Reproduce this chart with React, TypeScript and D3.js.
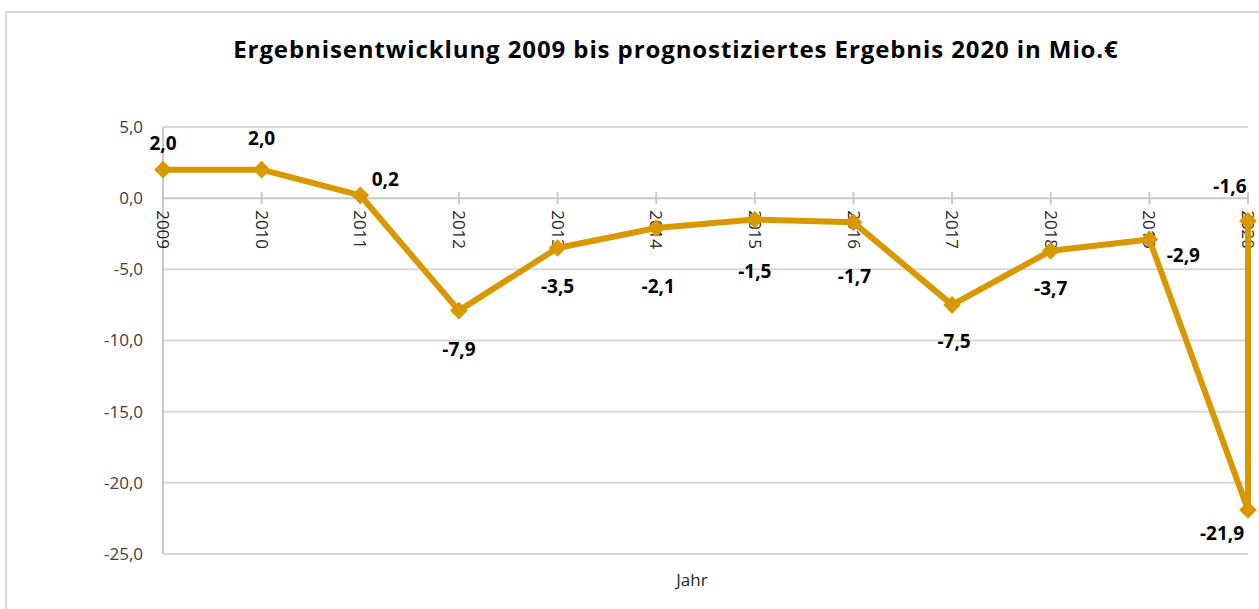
import React, { useEffect, useRef } from 'react';
import * as d3 from 'd3';

// chart data
const years = ['2009', '2010', '2011', '2012', '2013', '2014', '2015', '2016', '2017', '2018', '2019', '2020'];
const results = [2.0, 2.0, 0.2, -7.9, -3.5, -2.1, -1.5, -1.7, -7.5, -3.7, -2.9, -21.9];
const forecastYear = '2020';
const forecastValue = -1.6;
const yTicks = [5, 0, -5, -10, -15, -20, -25];

// label placement (pixel offsets from each point), same order as the points
const labelDx = [0, 0, 25, 0, 0, 2, 0, 1, 2, 0, 34, -26, -18];
const labelDy = [-26, -31, -16, 39, 38, 58, 52, 54, 36, 38, 16, 23, -35];

const LINE_COLOR = '#D99700';
const FONT = "'Open Sans', 'Noto Sans', sans-serif";

const App = ({ width = 1259, height = 609 }) => {
  const svgRef = useRef<SVGSVGElement | null>(null);

  useEffect(() => {
    if (!svgRef.current) return;
    const svg = d3.select(svgRef.current);
    svg.selectAll('*').remove();

    const margin = { top: 127, right: 11, bottom: 55, left: 163 };
    const plotRight = width - margin.right;
    const plotBottom = height - margin.bottom;

    const x = d3.scalePoint<string>().domain(years).range([margin.left, plotRight]);
    const y = d3.scaleLinear().domain([-25, 5]).range([plotBottom, margin.top]);

    const points = years.map((yr, i) => ({ year: yr, value: results[i] }));
    points.push({ year: forecastYear, value: forecastValue });

    const fmt = (v: number) => d3.format('.1f')(v).replace('.', ',').replace('−', '-');

    // chart frame
    svg.append('rect')
      .attr('x', 6)
      .attr('y', 12)
      .attr('width', width + 20)
      .attr('height', height + 20)
      .attr('fill', '#fff')
      .attr('stroke', '#d9d9d9')
      .attr('stroke-width', 2);

    // title
    svg.append('text')
      .attr('x', 676)
      .attr('y', 58)
      .attr('text-anchor', 'middle')
      .attr('font-family', FONT)
      .attr('font-size', '24px')
      .attr('font-weight', 'bold')
      .attr('letter-spacing', '0.9px')
      .attr('fill', '#000')
      .text('Ergebnisentwicklung 2009 bis prognostiziertes Ergebnis 2020 in Mio.€');

    // gridlines
    svg.append('g')
      .selectAll('line')
      .data(yTicks.filter(d => d !== 0))
      .enter()
      .append('line')
      .attr('x1', margin.left)
      .attr('x2', plotRight)
      .attr('y1', d => y(d))
      .attr('y2', d => y(d))
      .attr('stroke', '#d9d9d9')
      .attr('stroke-width', 2);

    // y axis line
    svg.append('line')
      .attr('x1', margin.left)
      .attr('x2', margin.left)
      .attr('y1', margin.top)
      .attr('y2', plotBottom)
      .attr('stroke', '#c8c8c8')
      .attr('stroke-width', 2);

    // y tick labels
    svg.append('g')
      .selectAll('text')
      .data(yTicks)
      .enter()
      .append('text')
      .attr('x', margin.left - 20)
      .attr('y', d => y(d))
      .attr('dy', '0.35em')
      .attr('text-anchor', 'end')
      .attr('font-family', FONT)
      .attr('font-size', '17px')
      .attr('fill', '#404040')
      .text(d => fmt(d));

    // zero axis with tick marks
    svg.append('line')
      .attr('x1', margin.left)
      .attr('x2', plotRight)
      .attr('y1', y(0))
      .attr('y2', y(0))
      .attr('stroke', '#c8c8c8')
      .attr('stroke-width', 2);

    svg.append('g')
      .selectAll('line')
      .data(years)
      .enter()
      .append('line')
      .attr('x1', d => x(d))
      .attr('x2', d => x(d))
      .attr('y1', y(0) - 6)
      .attr('y2', y(0) + 6)
      .attr('stroke', '#c8c8c8')
      .attr('stroke-width', 2);

    // x tick labels, rotated
    svg.append('g')
      .selectAll('text')
      .data(years)
      .enter()
      .append('text')
      .attr('transform', d => `translate(${x(d)},${y(0) + 12}) rotate(90)`)
      .attr('dy', '0.35em')
      .attr('text-anchor', 'start')
      .attr('font-family', FONT)
      .attr('font-size', '17px')
      .attr('fill', '#262626')
      .text(d => d);

    // axis title
    svg.append('text')
      .attr('x', 692)
      .attr('y', 580)
      .attr('dy', '0.35em')
      .attr('text-anchor', 'middle')
      .attr('font-family', FONT)
      .attr('font-size', '17px')
      .attr('fill', '#262626')
      .text('Jahr');

    // line
    const line = d3.line<{ year: string; value: number }>()
      .x(d => x(d.year) as number)
      .y(d => y(d.value));

    svg.append('path')
      .datum(points)
      .attr('d', line)
      .attr('fill', 'none')
      .attr('stroke', LINE_COLOR)
      .attr('stroke-width', 6)
      .attr('stroke-linejoin', 'round');

    // diamond markers
    svg.append('g')
      .selectAll('path')
      .data(points)
      .enter()
      .append('path')
      .attr('transform', d => `translate(${x(d.year)},${y(d.value)})`)
      .attr('d', d3.symbol().type(d3.symbolDiamond2).size(200))
      .attr('fill', LINE_COLOR);

    // data labels
    svg.append('g')
      .selectAll('text')
      .data(points)
      .enter()
      .append('text')
      .attr('x', (d, i) => (x(d.year) as number) + labelDx[i])
      .attr('y', (d, i) => y(d.value) + labelDy[i])
      .attr('dy', '0.35em')
      .attr('text-anchor', 'middle')
      .attr('font-family', FONT)
      .attr('font-size', '19px')
      .attr('font-weight', 'bold')
      .attr('fill', '#000')
      .text(d => fmt(d.value));
  }, [width, height]);

  return (
    <div>
      <svg
        ref={svgRef}
        width={width}
        height={height}
        style={{ position: 'absolute', left: 0, top: 0, display: 'block', background: '#fff' }}
      ></svg>
    </div>
  );
};

export default App;
